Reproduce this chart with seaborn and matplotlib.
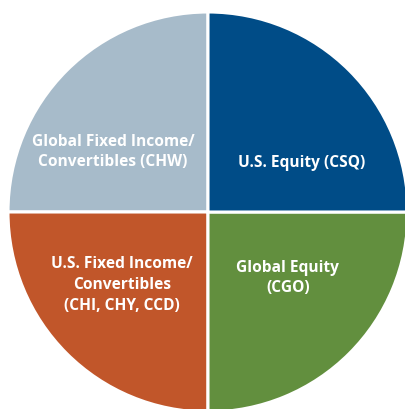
import matplotlib
matplotlib.use("Agg")
import matplotlib.pyplot as plt
import seaborn as sns

categories = ["Global Fixed Income/\nConvertibles (CHW)",
              "U.S. Fixed Income/\nConvertibles\n(CHI, CHY, CCD)",
              "Global Equity\n(CGO)",
              "U.S. Equity (CSQ)"]
values = [25, 25, 25, 25]
colors = ["#A7BBCA", "#C1562A", "#628F3E", "#004C87"]
label_xy = [(-0.475, 0.30), (-0.43, -0.365), (0.40, -0.33), (0.47, 0.245)]

sns.set_theme(style="white")
plt.rcParams['font.family'] = ['Open Sans', 'DejaVu Sans']

fig = plt.figure(figsize=(4.06, 4.09), dpi=100)
ax = fig.add_axes([0, 0, 1, 1])
ax.pie(values, colors=sns.color_palette(colors), startangle=90, counterclock=True,
       wedgeprops=dict(edgecolor="white", linewidth=2.2), radius=1.0)
for lab, (x, y) in zip(categories, label_xy):
    ax.text(x, y, lab, ha="center", va="center", color="white", fontsize=11.2,
            fontweight="bold", linespacing=1.38)
ax.set_xlim(-1.04, 0.99)
ax.set_ylim(-0.985, 1.06)
ax.set_aspect("equal")
ax.axis("off")
fig.savefig("out.png", dpi=100)
